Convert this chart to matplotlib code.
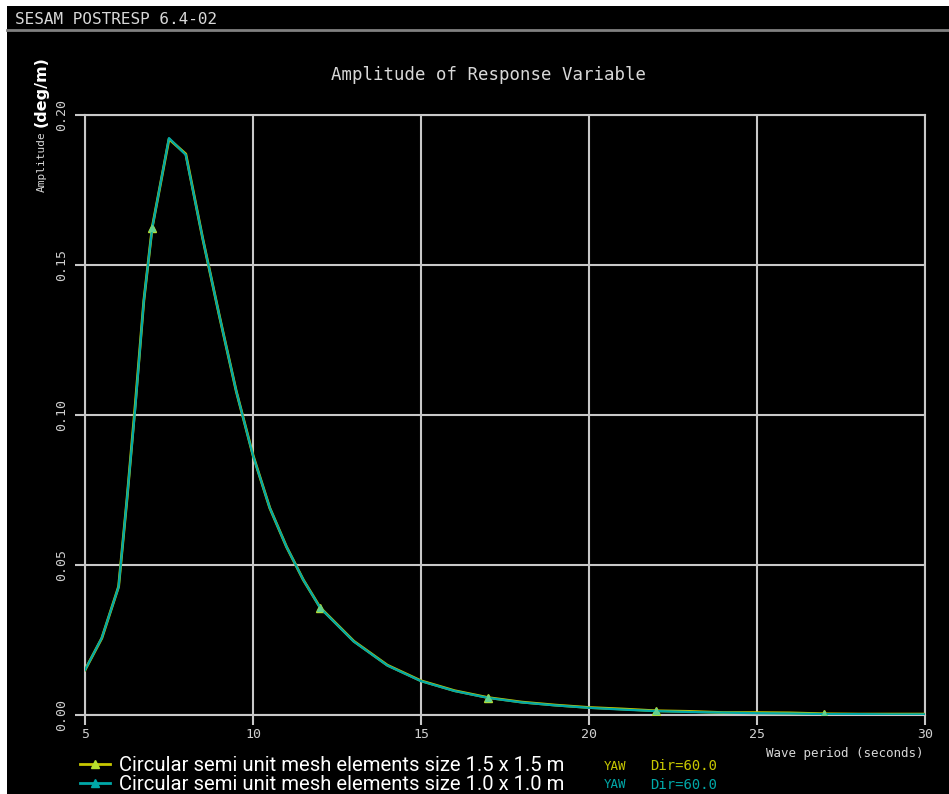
import matplotlib.pyplot as plt
from matplotlib.lines import Line2D
from matplotlib.patches import Rectangle

# wave period (s) and yaw amplitude (deg/m)
period = [5, 5.5, 6, 6.25, 6.5, 6.75, 7, 7.5, 8, 8.5, 9, 9.5, 10, 10.5, 11, 11.5,
          12, 13, 14, 15, 16, 17, 18, 19, 20, 21, 22, 23, 24, 25, 26, 27, 28, 29, 30]
amp_10 = [0.0150, 0.0257, 0.0427, 0.072, 0.103, 0.138, 0.1623, 0.1923, 0.1867, 0.159,
          0.133, 0.108, 0.0865, 0.069, 0.056, 0.045, 0.0357, 0.0245, 0.0165, 0.0113,
          0.0080, 0.0057, 0.0042, 0.0032, 0.0024, 0.0018, 0.0013, 0.0010, 0.0008,
          0.0006, 0.0005, 0.0003, 0.0003, 0.0002, 0.0002]
amp_15 = [0.0150, 0.0256, 0.0428, 0.072, 0.104, 0.138, 0.1625, 0.1920, 0.1870, 0.159,
          0.133, 0.108, 0.0866, 0.069, 0.056, 0.045, 0.0358, 0.0246, 0.0166, 0.0114,
          0.0081, 0.0058, 0.0043, 0.0033, 0.0025, 0.0020, 0.0014, 0.0012, 0.0008,
          0.0008, 0.0007, 0.0004, 0.0003, 0.0003, 0.0003]
marker_periods = [7, 12, 17, 22, 27]

x_ticks = [5, 10, 15, 20, 25, 30]
y_ticks = [0.00, 0.05, 0.10, 0.15, 0.20]

labels = ["Circular semi unit mesh elements size 1.5 x 1.5 m",
          "Circular semi unit mesh elements size 1.0 x 1.0 m"]
yellow = '#c8c800'
teal = '#00a8a8'
grey = '#c8c8c8'
mono = 'DejaVu Sans Mono'

W, H = 949, 794
fig = plt.figure(figsize=(W / 100, H / 100), dpi=100, facecolor='white')

# black screen area with the header bar
fig.patches.append(Rectangle((7 / W, 0), 1, 1 - 6 / H, transform=fig.transFigure,
                             facecolor='black', edgecolor='none', zorder=-5))
fig.lines.append(Line2D([7 / W, 1], [1 - 30 / H, 1 - 30 / H], transform=fig.transFigure,
                        color='#808080', lw=2))
fig.text(15 / W, 1 - 19 / H, "SESAM POSTRESP 6.4-02", color='#d8d8d8', family=mono,
         fontsize=11.5, va='center', ha='left')
fig.text(488 / W, 1 - 75 / H, "Amplitude of Response Variable", color='#d8d8d8',
         family=mono, fontsize=12.5, va='center', ha='center')

ax = fig.add_axes([85 / W, 79 / H, 840 / W, 600 / H])
ax.set_facecolor('black')

mk = [period.index(p) for p in marker_periods]
ax.plot(period, amp_15, color=yellow, lw=2.0, marker='^', markevery=mk, ms=6,
        mfc='#b8e030', mec='#b8e030', zorder=3)
ax.plot(period, amp_10, color=teal, lw=1.6, marker='^', markevery=mk, ms=4,
        mfc='#60d090', mec='#60d090', zorder=4)

ax.set_xlim(5, 30)
ax.set_ylim(0, 0.20)
ax.set_xticks(x_ticks)
ax.set_yticks(y_ticks)
ax.set_xticklabels([str(t) for t in x_ticks], family=mono, fontsize=9.5, color='#d0d0d0')
ax.set_yticklabels(["%.2f" % t for t in y_ticks], family=mono, fontsize=9.5,
                   color='#d0d0d0', rotation=90, va='center')
ax.tick_params(axis='both', colors=grey, length=7, width=1.5, direction='out')
ax.tick_params(axis='x', labelcolor='#d0d0d0', pad=2)
ax.tick_params(axis='y', labelcolor='#d0d0d0', pad=5)
ax.grid(True, color=grey, lw=1.5)
ax.set_axisbelow(True)
for s in ax.spines.values():
    s.set_color(grey)
    s.set_linewidth(1.5)

# axis titles
fig.text(42 / W, 1 - 192 / H, "Amplitude", color='#d8d8d8', family=mono, fontsize=8,
         rotation=90, ha='center', va='bottom')
fig.text(41 / W, 1 - 127 / H, "(deg/m)", color='white', family='DejaVu Sans',
         fontsize=11.5, fontweight='bold', rotation=90, ha='center', va='bottom')
fig.text(923 / W, 1 - 753 / H, "Wave period (seconds)", color='#d8d8d8', family=mono,
         fontsize=9, ha='right', va='center')

# legend rows
handles = [Line2D([], [], color=yellow, lw=2, marker='^', ms=6, mfc='#b8e030', mec='#b8e030'),
           Line2D([], [], color=teal, lw=2, marker='^', ms=6, mfc=teal, mec=teal)]
leg = fig.legend(handles, labels, loc='lower left', bbox_to_anchor=(80 / W, 0),
                 frameon=False, handlelength=1.5, handletextpad=0.4, labelspacing=0.0,
                 borderpad=0.0, borderaxespad=0.0,
                 prop={'family': ['Liberation Sans Narrow', 'Roboto'], 'size': 14.6})
for t in leg.get_texts():
    t.set_color('white')

for row_y, col in [(766, yellow), (785, teal)]:
    fig.text(604 / W, 1 - row_y / H, "YAW", color=col, family=mono, fontsize=9,
             va='center', ha='left')
    fig.text(650 / W, 1 - row_y / H, "Dir=60.0", color=col, family=mono, fontsize=10,
             va='center', ha='left')

fig.savefig('out.png', dpi=100, facecolor=fig.get_facecolor())
